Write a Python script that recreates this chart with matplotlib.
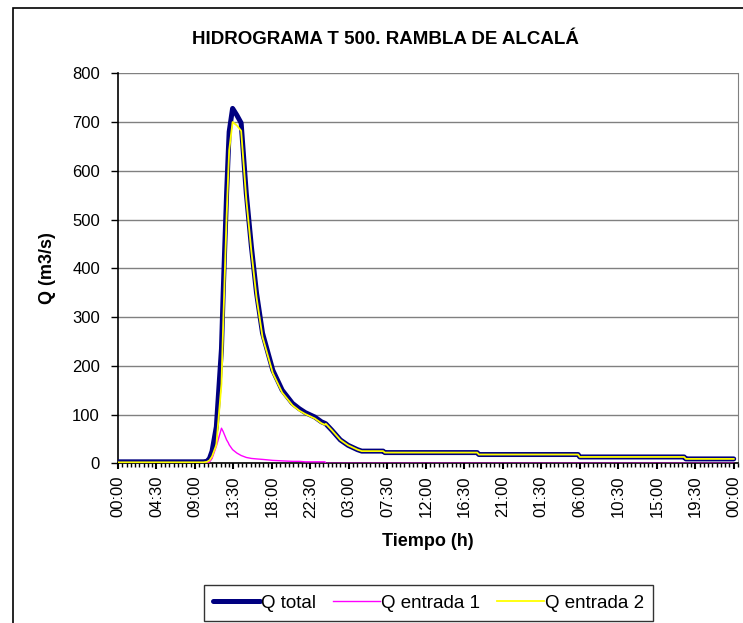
import numpy as np
import matplotlib.pyplot as plt
from matplotlib.patches import Rectangle

# Horas desde el inicio (00:00 del primer dia)
horas = [0.0, 10.0, 10.4, 10.7, 11.0, 11.5, 12.1, 12.3, 12.7, 12.9, 13.0,
         13.4, 13.9, 14.4, 15.0, 15.6, 16.2, 16.9, 18.1, 19.2, 20.4, 21.2,
         21.9, 23.0, 23.8, 24.2, 24.3, 25.0, 26.0, 26.9, 28.0, 28.5, 31.0,
         31.2, 42.0, 42.2, 53.8, 54.0, 66.2, 66.4, 72.0]

q_total = [3, 3, 4, 10, 25, 75, 235, 350, 554, 640, 680,
           728, 714, 698, 554, 444, 349, 267, 191, 150, 123, 112,
           104, 95, 85, 82, 81, 68, 48, 37, 28, 25, 25,
           22, 22, 18, 18, 13, 13, 9, 9]

q_entrada1 = [0, 0, 0, 3, 10, 35, 72, 65, 48, 42, 38,
              28, 21, 16, 12, 10, 9, 8, 6, 5, 4, 4,
              3, 3, 3, 3, 0, 0, 0, 0, 0, 0, 0,
              0, 0, 0, 0, 0, 0, 0, 0]

q_entrada2 = [2, 2, 3, 6, 14, 38, 163, 285, 506, 598, 642,
              700, 693, 682, 542, 434, 340, 259, 185, 145, 119, 108,
              101, 92, 82, 79, 81, 68, 48, 37, 28, 25, 25,
              22, 22, 18, 18, 13, 13, 9, 9]

etiquetas_x = ['00:00', '04:30', '09:00', '13:30', '18:00', '22:30', '03:00',
               '07:30', '12:00', '16:30', '21:00', '01:30', '06:00', '10:30',
               '15:00', '19:30', '00:00']

plt.rcParams['font.family'] = ['Liberation Sans', 'DejaVu Sans']

fig = plt.figure(figsize=(7.43, 6.23), dpi=100)
ax = fig.add_axes([118 / 743, 1 - 463.3 / 623, (738 - 118) / 743, 390 / 623])

# marco exterior del grafico
fig.patches.append(Rectangle((13 / 743, -0.1), 1.2, 1 - 8 / 623 + 0.1,
                             transform=fig.transFigure, fill=False,
                             edgecolor='black', linewidth=1.2))

ax.plot(horas, q_total, color='#000080', linewidth=3.6, label='Q total',
        solid_capstyle='round', zorder=3)
ax.plot(horas, q_entrada1, color='#FF00FF', linewidth=1.0, label='Q entrada 1',
        zorder=4)
ax.plot(horas, q_entrada2, color='#FFFF00', linewidth=1.3, label='Q entrada 2',
        zorder=5)

ax.set_xlim(0, 72.5)
ax.set_ylim(0, 800)
ax.set_yticks(np.arange(0, 801, 100))
ax.yaxis.grid(True, color='#808080', linewidth=1.0)
ax.set_axisbelow(True)

ax.set_xticks(np.arange(0, 72.1, 4.5))
ax.set_xticklabels(etiquetas_x, rotation=90)
ax.set_xticks(np.arange(0, 72.6, 0.5), minor=True)
ax.tick_params(axis='x', which='major', length=4, width=1.5, direction='out',
               labelsize=12, pad=5)
ax.tick_params(axis='x', which='minor', length=3, width=1.0, direction='out')
ax.tick_params(axis='y', length=5, width=1.0, labelsize=12, pad=8)

ax.spines['top'].set_visible(False)
ax.spines['right'].set_color('#808080')
ax.spines['left'].set_linewidth(1.2)
ax.spines['bottom'].set_linewidth(1.2)

fig.text(385 / 743, 1 - 39 / 623, 'HIDROGRAMA T 500. RAMBLA DE ALCALÁ',
         ha='center', va='center', fontsize=13.5, fontweight='bold')
fig.text(428 / 743, 1 - 542 / 623, 'Tiempo (h)', ha='center', va='center',
         fontsize=13, fontweight='bold')
fig.text(48 / 743, 1 - 268 / 623, 'Q (m3/s)', ha='center', va='center',
         rotation=90, fontsize=13, fontweight='bold')

leg = fig.legend(loc='upper center', bbox_to_anchor=(428.5 / 743, 1 - 585 / 623),
                 ncol=3, frameon=True, fancybox=False, fontsize=13.5,
                 handlelength=2.5, handletextpad=0.05, columnspacing=0.9,
                 borderpad=0.5, borderaxespad=0)
leg.get_frame().set_edgecolor('black')
leg.get_frame().set_linewidth(1.0)

fig.savefig('out.png', dpi=100)
